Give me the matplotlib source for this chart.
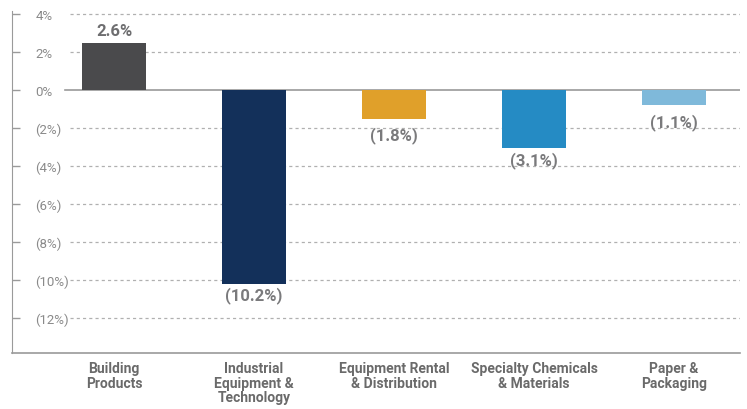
import matplotlib
matplotlib.use('Agg')
import matplotlib.pyplot as plt
from matplotlib import font_manager

# data (bar heights as drawn, labels as printed)
categories = ['Building\nProducts', 'Industrial\nEquipment &\nTechnology',
              'Equipment Rental\n& Distribution', 'Specialty Chemicals\n& Materials',
              'Paper &\nPackaging']
values = [2.47, -10.2, -1.55, -3.05, -0.8]
label_values = [2.6, -10.2, -1.8, -3.1, -1.1]
colors = ['#4a4a4c', '#13305a', '#e0a02a', '#258bc4', '#7fb9da']
yticks = [4, 2, 0, -2, -4, -6, -8, -10, -12]

def pct(v):
    return f'{v:.0f}%' if v >= 0 else f'({-v:.0f}%)'

def pct1(v):
    return f'{v:.1f}%' if v >= 0 else f'({-v:.1f}%)'

names = {f.name for f in font_manager.fontManager.ttflist}
fam = [f for f in ['Liberation Sans Narrow', 'Roboto', 'DejaVu Sans'] if f in names]
plt.rcParams['font.family'] = fam

W, H = 747, 410
fig = plt.figure(figsize=(W/100, H/100), dpi=100)
ax = fig.add_axes([12/W, 1-354/H, (740-12)/W, (354-12)/H])

x = list(range(len(values)))
ax.bar(x, values, width=0.46, color=colors, zorder=3)
ax.set_xlim(-0.729, 4.471)
ax.set_ylim(-13.84, 4.16)

for y in yticks:
    if y == 0:
        ax.axhline(0, xmin=0.073, xmax=1, color='#9a9a9a', lw=1.2, zorder=2)
    else:
        ax.axhline(y, xmin=0.079, xmax=1, color='#b0b0b0', lw=0.9,
                   linestyle=(0, (2.5, 2.5)), zorder=1)

for xi, lv in zip(x, label_values):
    if lv >= 0:
        ax.text(xi, lv + 0.15, pct1(lv), ha='center', va='bottom', fontsize=12,
                fontweight='bold', color='#6e6e70')
    else:
        ax.text(xi, lv - 0.1, pct1(lv), ha='center', va='top', fontsize=12,
                fontweight='bold', color='#7a7a7c', zorder=4)

ax.set_yticks(yticks)
ax.set_yticklabels([pct(v) for v in yticks])
ax.tick_params(axis='y', direction='in', length=6, width=1, color='#9a9a9a',
               pad=-17, labelsize=9.5, labelcolor='#8a8a8a')
for t in ax.get_yticklabels():
    t.set_ha('left')

ax.set_xticks(x)
ax.set_xticklabels(categories, fontsize=10, fontweight='bold', color='#6a6a6a',
                   linespacing=1.05)
ax.tick_params(axis='x', length=0, pad=6)

for s in ['top', 'right']:
    ax.spines[s].set_visible(False)
ax.spines['left'].set_color('#9a9a9a')
ax.spines['bottom'].set_color('#9a9a9a')
ax.spines['bottom'].set_linewidth(1.2)

fig.savefig('out.png', dpi=100)
